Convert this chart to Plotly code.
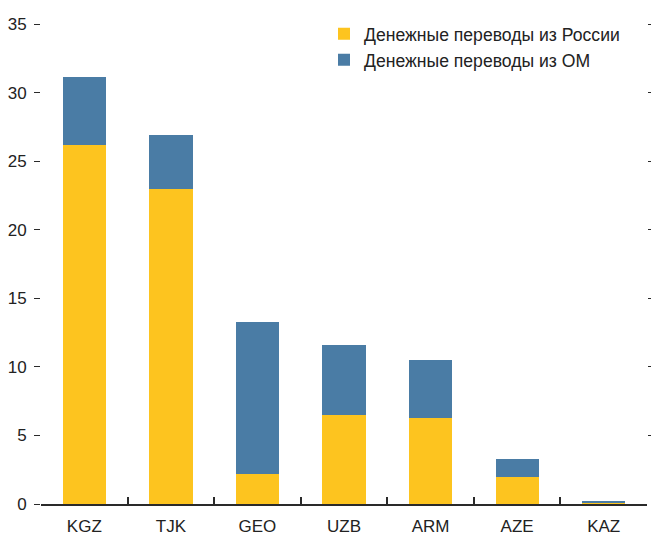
import plotly.graph_objects as go

countries = ["KGZ", "TJK", "GEO", "UZB", "ARM", "AZE", "KAZ"]
from_russia = [26.2, 23.0, 2.2, 6.5, 6.3, 2.0, 0.1]
from_other = [4.9, 3.9, 11.1, 5.1, 4.2, 1.3, 0.1]
y_ticks = [0, 5, 10, 15, 20, 25, 30, 35]

YELLOW = "#FDC41F"
BLUE = "#4A7CA5"
TEXT = "#222222"
FONT = "Liberation Sans"

fig = go.Figure()
fig.add_trace(go.Bar(
    x=countries, y=from_russia, name="Денежные переводы из России",
    marker=dict(color=YELLOW, line=dict(width=0)),
))
fig.add_trace(go.Bar(
    x=countries, y=from_other, name="Денежные переводы из ОМ",
    marker=dict(color=BLUE, line=dict(width=0)),
))
# invisible trace to carry right-hand tick marks
fig.add_trace(go.Scatter(x=countries, y=[None] * len(countries), yaxis="y2",
                         showlegend=False, hoverinfo="skip"))

fig.update_layout(
    width=651, height=535,
    barmode="stack", bargap=0.5,
    plot_bgcolor="white", paper_bgcolor="white",
    margin=dict(l=41, r=4, t=24, b=31, autoexpand=False),
    font=dict(family=FONT, size=17, color=TEXT),
    showlegend=True,
    legend=dict(x=0.467, y=1.017, xanchor="left", yanchor="top",
                traceorder="normal", font=dict(size=17.6, color=TEXT),
                itemwidth=30, tracegroupgap=0, bgcolor="rgba(0,0,0,0)"),
    xaxis=dict(
        range=[-0.5, 6.5], showgrid=False, showline=True, linecolor="#2a2a2a",
        linewidth=1.5, ticks="inside", tickson="boundaries", ticklen=7,
        tickcolor="#2a2a2a", tickwidth=1.5, ticklabelstandoff=6,
        tickfont=dict(size=17, color=TEXT), automargin=False,
    ),
    yaxis=dict(
        range=[0, 35], tickvals=y_ticks, showgrid=False, zeroline=False,
        showline=False, ticks="outside", ticklen=6, tickcolor="#2a2a2a",
        tickwidth=1.2, ticklabelstandoff=4, tickfont=dict(size=17, color=TEXT),
        automargin=False,
    ),
    yaxis2=dict(
        range=[0, 35], tickvals=y_ticks[1:], overlaying="y", side="right",
        showgrid=False, zeroline=False, showline=False, ticks="outside",
        ticklen=4, tickcolor="#2a2a2a", tickwidth=1.2, showticklabels=False,
        automargin=False,
    ),
)

fig.write_html("out.html")
